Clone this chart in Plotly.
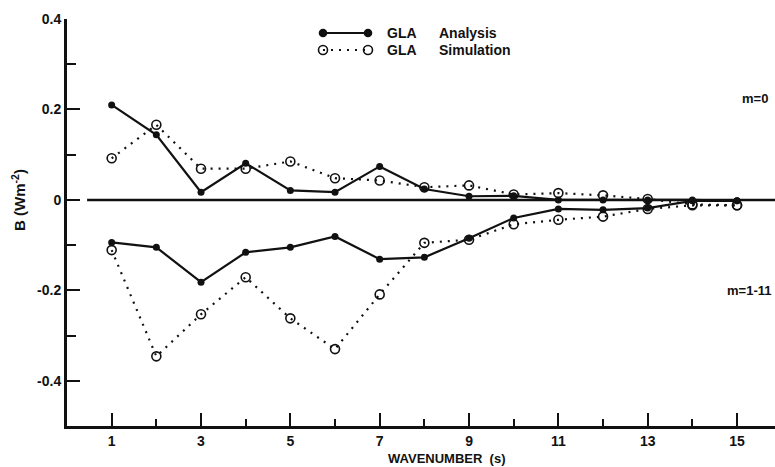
import plotly.graph_objects as go

# Wavenumber index
wavenumber = list(range(1, 16))

# Zonal-mean (m=0) contribution
m0_analysis = [0.210, 0.144, 0.017, 0.081, 0.021, 0.017, 0.074, 0.024, 0.008, 0.009,
               0.0, 0.0, 0.0, 0.0, -0.002]
m0_simulation = [0.092, 0.166, 0.069, 0.069, 0.085, 0.048, 0.043, 0.028, 0.032, 0.012,
                 0.015, 0.010, 0.002, -0.010, -0.012]

# Eddy (m=1-11) contribution
m111_analysis = [-0.094, -0.105, -0.182, -0.116, -0.105, -0.081, -0.131, -0.127, -0.085, -0.040,
                 -0.020, -0.022, -0.018, -0.002, -0.002]
m111_simulation = [-0.111, -0.346, -0.253, -0.171, -0.262, -0.330, -0.209, -0.095, -0.088, -0.054,
                   -0.044, -0.037, -0.020, -0.012, -0.012]

y_tickvals = [-0.4, -0.2, 0, 0.2, 0.4]
y_ticktext = ["-0.4", "-0.2", "0", "0.2", "0.4"]
x_tickvals = [1, 3, 5, 7, 9, 11, 13, 15]

FONT = "Liberation Sans, Arial, Helvetica, sans-serif"
INK = "#111111"

# plot-area geometry in pixels
LEFT, TOP, BOTTOM, WIDTH = 67, 19, 426, 708
PLOT_H = BOTTOM - TOP


def px_x(px):
    return (px - LEFT) / WIDTH


def px_y(py):
    return 1 - (py - TOP) / PLOT_H


analysis_style = dict(mode="lines+markers",
                      line=dict(color=INK, width=2.2),
                      marker=dict(symbol="circle", size=7, color=INK),
                      showlegend=False, hoverinfo="x+y")
simulation_style = dict(mode="lines+markers",
                        line=dict(color=INK, width=2.2, dash="2px,6px"),
                        marker=dict(symbol="circle-open", size=9, color=INK,
                                    line=dict(width=1.6, color=INK)),
                        showlegend=False, hoverinfo="x+y")

fig = go.Figure()
fig.add_trace(go.Scatter(x=wavenumber, y=m0_simulation, **simulation_style))
fig.add_trace(go.Scatter(x=wavenumber, y=m111_simulation, **simulation_style))
fig.add_trace(go.Scatter(x=wavenumber, y=m0_analysis, **analysis_style))
fig.add_trace(go.Scatter(x=wavenumber, y=m111_analysis, **analysis_style))

# zero reference line
fig.add_shape(type="line", xref="x", yref="y", x0=0.45, x1=15.85, y0=0, y1=0,
              line=dict(color=INK, width=2.5), layer="below")


# hand-built key in the upper middle
def key_row(py, dashed, label_a, label_b):
    y = px_y(py)
    fig.add_shape(type="line", xref="paper", yref="paper",
                  x0=px_x(323), x1=px_x(368), y0=y, y1=y,
                  line=dict(color=INK, width=2.2,
                            dash="2px,6px" if dashed else "solid"))
    for px in (323, 368):
        fig.add_trace(go.Scatter(
            x=[px_x(px)], y=[y], xaxis="x2", yaxis="y2", mode="markers",
            marker=dict(symbol="circle-open" if dashed else "circle",
                        size=9 if dashed else 7, color=INK,
                        line=dict(width=1.6, color=INK)),
            showlegend=False, hoverinfo="skip"))
    fig.add_annotation(xref="paper", yref="paper", x=px_x(385), y=y,
                       xanchor="left", yanchor="middle", showarrow=False,
                       text="<b>%s</b>" % label_a,
                       font=dict(family=FONT, size=14, color=INK))
    fig.add_annotation(xref="paper", yref="paper", x=px_x(437), y=y,
                       xanchor="left", yanchor="middle", showarrow=False,
                       text="<b>%s</b>" % label_b,
                       font=dict(family=FONT, size=14, color=INK))


key_row(33, False, "GLA", "Analysis")
key_row(50, True, "GLA", "Simulation")

fig.add_annotation(xref="paper", yref="y", x=px_x(770), y=0.225,
                   xanchor="right", yanchor="middle", showarrow=False,
                   text="<b>m=0</b>", font=dict(family=FONT, size=13, color=INK))
fig.add_annotation(xref="paper", yref="y", x=px_x(773), y=-0.2,
                   xanchor="right", yanchor="middle", showarrow=False,
                   text="<b>m=1-11</b>", font=dict(family=FONT, size=13, color=INK))

# axis titles
fig.add_annotation(xref="paper", yref="paper", x=px_x(446), y=px_y(458),
                   xanchor="center", yanchor="middle", showarrow=False,
                   text="<b>WAVENUMBER  (s)</b>",
                   font=dict(family=FONT, size=13, color=INK))
fig.add_annotation(xref="paper", yref="y", x=px_x(19), y=0.0,
                   xanchor="center", yanchor="middle", showarrow=False, textangle=-90,
                   text="<b>B (Wm<sup>-2</sup>)</b>",
                   font=dict(family=FONT, size=15, color=INK))

fig.update_layout(
    width=775, height=467,
    margin=dict(l=LEFT, r=0, t=TOP, b=467 - BOTTOM),
    paper_bgcolor="white", plot_bgcolor="white",
    font=dict(family=FONT, size=14, color=INK),
    xaxis=dict(range=[0, 15.85], showgrid=False, zeroline=False,
               showline=True, linecolor=INK, linewidth=3,
               ticks="inside", ticklen=13, tickwidth=2.2, tickcolor=INK,
               tickvals=x_tickvals, ticktext=["<b>%d</b>" % v for v in x_tickvals],
               tickfont=dict(family=FONT, size=14, color=INK),
               minor=dict(ticks="inside", ticklen=7, tickwidth=2, tickcolor=INK,
                          tick0=0, dtick=2, showgrid=False)),
    yaxis=dict(range=[-0.5, 0.4], showgrid=False, zeroline=False,
               showline=True, linecolor=INK, linewidth=3,
               ticks="inside", ticklen=13, tickwidth=2.2, tickcolor=INK,
               tickvals=y_tickvals, ticktext=["<b>%s</b>" % t for t in y_ticktext],
               tickfont=dict(family=FONT, size=14, color=INK),
               minor=dict(ticks="inside", ticklen=9, tickwidth=2, tickcolor=INK,
                          tick0=-0.5, dtick=0.1, showgrid=False)),
    xaxis2=dict(range=[0, 1], overlaying="x", visible=False),
    yaxis2=dict(range=[0, 1], overlaying="y", visible=False),
)

fig.write_html("out.html")
